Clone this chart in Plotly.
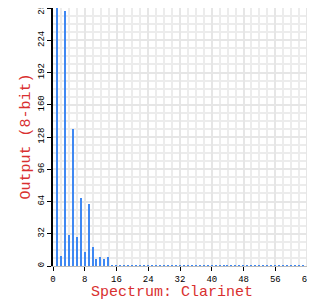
import plotly.graph_objects as go

bins = list(range(0, 64))
harmonics = [0, 300, 10, 253, 31, 136, 29, 67, 14, 62, 19, 7, 9, 7, 9]
floor_vals = [0.6] * (64 - len(harmonics))
values = harmonics + floor_vals

x_ticks = [0, 8, 16, 24, 32, 40, 48, 56, 64]
y_ticks = [0, 32, 64, 96, 128, 160, 192, 224, 256]

x_title = "Spectrum: Clarinet"
y_title = "Output (8-bit)"

font_mono = "Liberation Mono, DejaVu Sans Mono, monospace"
title_red = "#d93030"

fig = go.Figure()
fig.add_trace(go.Bar(x=bins, y=values, width=0.35,
                     marker=dict(color="#3f88f2", line=dict(width=0))))

fig.update_layout(
    width=315, height=306,
    margin=dict(l=45, r=8, t=0, b=48),
    paper_bgcolor="white", plot_bgcolor="white",
    showlegend=False,
    bargap=0,
    font=dict(family=font_mono, size=8, color="black"),
)
fig.update_xaxes(
    automargin=False, ticklabeloverflow="allow",
    range=[0, 66], tickvals=x_ticks, ticktext=[str(v) for v in x_ticks],
    showgrid=True, gridcolor="#e6e6e6", gridwidth=1.5,
    minor=dict(dtick=2, showgrid=True, gridcolor="#ececec", gridwidth=1.5, ticks=""),
    ticks="outside", ticklen=4, tickcolor="black",
    showline=True, linecolor="#bbbbbb", linewidth=1,
    zeroline=False,
    tickfont=dict(family=font_mono, size=9, color="black"),
)
fig.update_yaxes(
    automargin=False, ticklabeloverflow="allow",
    range=[0, 256], tickvals=y_ticks, ticktext=[str(v) for v in y_ticks],
    tickangle=-90,
    showgrid=True, gridcolor="#e6e6e6", gridwidth=1.5,
    minor=dict(dtick=8, showgrid=True, gridcolor="#ececec", gridwidth=1.5, ticks=""),
    ticks="outside", ticklen=4, tickcolor="black",
    showline=True, linecolor="black", linewidth=1.5,
    zeroline=False,
    tickfont=dict(family=font_mono, size=9, color="black"),
)

fig.add_annotation(text=x_title, xref="paper", yref="paper", x=0.456, y=0,
                   xanchor="center", yanchor="middle", yshift=-26, showarrow=False,
                   font=dict(family=font_mono, size=15, color=title_red))
fig.add_annotation(text=y_title, xref="paper", yref="paper", x=0, y=0.5,
                   xanchor="center", yanchor="middle", xshift=-27.5, showarrow=False,
                   textangle=-90,
                   font=dict(family=font_mono, size=15, color=title_red))

fig.write_html("out.html")
